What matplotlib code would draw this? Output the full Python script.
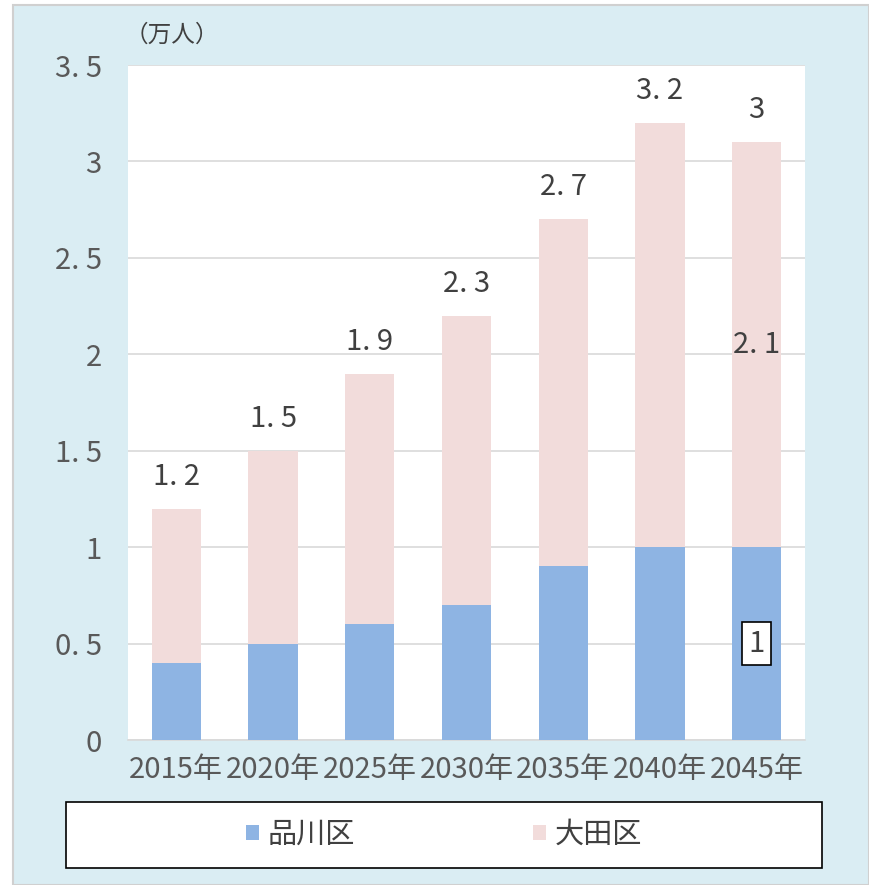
import matplotlib
matplotlib.use("Agg")
import matplotlib.pyplot as plt
from matplotlib.patches import Rectangle
import numpy as np

plt.rcParams['font.family'] = ['Noto Sans CJK JP', 'DejaVu Sans']

years = ["2015年", "2020年", "2025年", "2030年", "2035年", "2040年", "2045年"]
shinagawa = [0.4, 0.5, 0.6, 0.7, 0.9, 1.0, 1.0]
ota = [0.8, 1.0, 1.3, 1.5, 1.8, 2.2, 2.1]
total_labels = ["1. 2", "1. 5", "1. 9", "2. 3", "2. 7", "3. 2", "3"]
yticks = [0, 0.5, 1, 1.5, 2, 2.5, 3, 3.5]
ytick_labels = ["0", "0. 5", "1", "1. 5", "2", "2. 5", "3", "3. 5"]

W, H = 869, 885
fig = plt.figure(figsize=(W / 100, H / 100), dpi=100)
fig.patch.set_facecolor("white")
bg = Rectangle((13 / W, 0), 1 - 13 / W, 1 - 5 / H, transform=fig.transFigure,
               facecolor="#DAEDF3", edgecolor="#D0D0D0", linewidth=1.5, zorder=-10)
fig.patches.append(bg)
legbox = Rectangle((66 / W, 1 - 868 / H), (822 - 66) / W, (868 - 802) / H, transform=fig.transFigure,
                   facecolor="white", edgecolor="black", linewidth=1.2, zorder=-5)
fig.patches.append(legbox)

ax = fig.add_axes([128 / W, 1 - 740 / H, (805 - 128) / W, (740 - 65) / H])
ax.set_facecolor("white")
x = np.arange(len(years))
blue = "#8EB4E3"
pink = "#F2DCDB"
ax.bar(x, shinagawa, width=0.51, color=blue, zorder=3, label="品川区")
ax.bar(x, ota, width=0.51, bottom=shinagawa, color=pink, zorder=3, label="大田区")

ax.set_xlim(-0.5, len(years) - 0.5)
ax.set_ylim(0, 3.5)
ax.set_yticks(yticks)
ax.set_yticklabels(ytick_labels)
ax.set_xticks(x)
ax.set_xticklabels(years)
ax.tick_params(axis="both", length=0, colors="#595959", labelsize=21)
ax.tick_params(axis="y", pad=19)
ax.tick_params(axis="x", pad=11)
ax.grid(axis="y", color="#D9D9D9", linewidth=1.2, zorder=0)
for s in ["left", "right", "top"]:
    ax.spines[s].set_visible(False)
ax.spines["bottom"].set_color("#D9D9D9")
ax.spines["bottom"].set_linewidth(1.2)

tops = [a + b for a, b in zip(shinagawa, ota)]
for xi, t, lab in zip(x, tops, total_labels):
    ax.annotate(lab, (xi, t), xytext=(0, 23), textcoords="offset points",
                ha="center", va="center", fontsize=21, color="#404040")

# inside labels for last bar
ax.annotate("2. 1", (x[-1], tops[-1]), xytext=(0, -146),
            textcoords="offset points", ha="center", va="center", fontsize=21, color="#404040")
ax.text(x[-1], shinagawa[-1] * 0.5, "1", ha="center", va="center", fontsize=21, color="#404040",
        zorder=5, bbox=dict(boxstyle="square,pad=0.22", facecolor="white", edgecolor="black", linewidth=1.2))

fig.text(125 / W, 1 - 35 / H, "（万人）", ha="left", va="center", fontsize=17, color="#404040")

leg = fig.legend(loc="center", bbox_to_anchor=(444 / W, 1 - 835 / H),
                 ncol=2, frameon=False, fontsize=21, handlelength=0.45, handleheight=0.45,
                 handletextpad=0.3, columnspacing=6.1,
                 bbox_transform=fig.transFigure, borderaxespad=0)
for t in leg.get_texts():
    t.set_color("#404040")

fig.savefig("out.png", dpi=100, facecolor=fig.get_facecolor())
